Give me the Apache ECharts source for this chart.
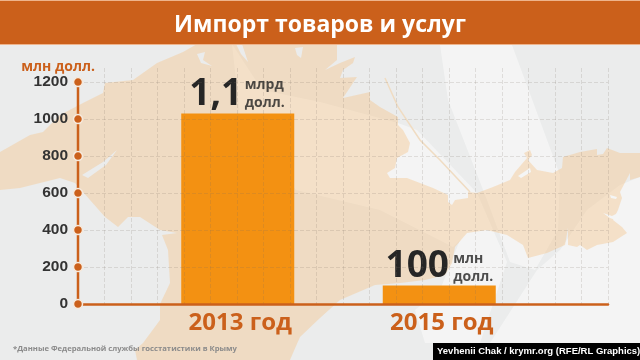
<!DOCTYPE html>
<html>
<head>
<meta charset="utf-8">
<style>
  html, body { margin: 0; padding: 0; background: #ebecec; }
  #chart { width: 640px; height: 360px; }
</style>
<script src="https://cdn.jsdelivr.net/npm/echarts@6/dist/echarts.min.js"></script>
</head>
<body>
<div id="chart"></div>
<script>
// data
const categories = ['2013 год', '2015 год']
const importValues = [1030, 100]
const bigLabels = ['1,1', '100']
const unitLabels = ['млрд\nдолл.', 'млн\nдолл.']
const yTicks = [0, 200, 400, 600, 800, 1000, 1200]

const orange = '#cb601b'
const barColor = '#f39112'
const land = 'rgba(245,196,134,0.4)'
const sea = '#ebecec'
const openSans = '"Open Sans", sans-serif'

// backdrop: map of Crimea, only decoration
const landShape = [
  [0, 152], [30, 135], [43, 132], [60, 115], [83, 103], [103, 93], [105, 83], [133, 80], [157, 63], [183, 52], [197, 44],
  [337, 44], [337, 60], [325, 70], [340, 63], [355, 57], [353, 63], [343, 70], [340, 78], [357, 77], [343, 98], [370, 92],
  [370, 100], [380, 107], [398, 117], [398, 125], [403, 130], [410, 143], [408, 152], [397, 158], [395, 168], [387, 173],
  [390, 178], [407, 178], [420, 183], [433, 188], [448, 195], [448, 202], [452, 205], [455, 200], [468, 198], [468, 192],
  [477, 193], [493, 187], [510, 180], [515, 172], [527, 158], [524, 153], [530, 150], [532, 155], [528, 160], [537, 170],
  [553, 173], [562, 168], [563, 157], [580, 152], [597, 149], [597, 155], [603, 154], [607, 148], [620, 153], [640, 153],
  [640, 177], [630, 180], [630, 173], [620, 192], [622, 198], [618, 210], [613, 220], [622, 227], [627, 233], [613, 242],
  [597, 245], [587, 250], [580, 245], [577, 247], [568, 245], [568, 228], [565, 245], [547, 253], [528, 258], [523, 245],
  [507, 235], [487, 230], [467, 233], [455, 247], [452, 263], [445, 275], [425, 280], [400, 283], [375, 285], [340, 300],
  [320, 318], [300, 337], [293, 353], [290, 360], [137, 360], [135, 350], [143, 343], [160, 320], [160, 304], [170, 283],
  [168, 250], [162, 235], [177, 233], [160, 230], [140, 217], [128, 217], [118, 227], [105, 217], [90, 200], [75, 183],
  [60, 178], [20, 188], [0, 190]
]
const seaPatches = [
  [[82, 175], [103, 162], [117, 150], [106, 165], [88, 178]],
  [[197, 54], [205, 52], [203, 60], [212, 66], [201, 63]],
  [[236, 44], [242, 44], [248, 62], [241, 54]],
  [[295, 48], [303, 47], [301, 58], [297, 55]]
]
const lightSeaPatches = [
  [[518, 176], [530, 168], [531, 172], [521, 178]],
  [[603, 213], [612, 216], [620, 212], [618, 221], [610, 218]],
  [[610, 195], [617, 197], [616, 199], [611, 198]]
]
const lightBands = [
  [[232, 44], [262, 90], [320, 102], [398, 123], [417, 130], [477, 193], [507, 262], [480, 343], [425, 343], [415, 310],
    [440, 290], [460, 240], [453, 247], [380, 210], [296, 190], [240, 115]],
  [[440, 45], [512, 45], [560, 175], [558, 230], [535, 270], [510, 262], [487, 200], [448, 100]],
  [[640, 177], [620, 185], [587, 210], [560, 250], [537, 270], [490, 343], [480, 360], [640, 360]]
]

const backdrop = [
  { type: 'rect', z: -10, shape: { x: 0, y: 0, width: 640, height: 360 }, style: { fill: sea } },
  ...lightBands.map(points => ({ type: 'polygon', z: -9, shape: { points }, style: { fill: 'rgba(255,255,255,0.45)' } })),
  { type: 'polygon', z: -8, shape: { points: landShape }, style: { fill: land } },
  ...seaPatches.map(points => ({ type: 'polygon', z: -7, shape: { points }, style: { fill: sea } })),
  ...lightSeaPatches.map(points => ({ type: 'polygon', z: -7, shape: { points }, style: { fill: '#f4f5f5' } })),
  { type: 'polyline', z: -7, shape: { points: [[385, 78], [398, 107], [420, 140], [440, 160], [470, 192]] }, style: { stroke: '#f0dcc2', lineWidth: 1.5, fill: null } },
  { type: 'rect', z: -6, shape: { x: 0, y: 0, width: 640, height: 45 }, style: { fill: '#eeb48c' } },
  { type: 'rect', z: -5, shape: { x: 0, y: 1, width: 640, height: 43 }, style: { fill: orange } },
  {
    type: 'text', z: 10, left: 13, top: 345,
    style: { text: '*Данные Федеральной службы госстатистики в Крыму', fill: '#8b8b8b', font: 'bold 7.7px ' + openSans }
  },
  { type: 'rect', z: 10, shape: { x: 433, y: 343, width: 207, height: 17 }, style: { fill: '#000' } },
  {
    type: 'text', z: 11, left: 437, top: 346,
    style: { text: 'Yevhenii Chak / krymr.org (RFE/RL Graphics)', fill: '#fff', font: 'bold 9.5px "Liberation Sans", sans-serif' }
  }
]

const chart = echarts.init(document.getElementById('chart'))

chart.setOption({
  animation: false,
  title: {
    text: 'Импорт товаров и услуг',
    left: 'center',
    top: 9,
    textStyle: { color: '#fff', fontFamily: openSans, fontWeight: 'bold', fontSize: 23 }
  },
  graphic: backdrop,
  grid: [
    // frame with the dashed lattice
    { left: 78, right: 32, top: 68, bottom: 56 },
    // narrower grid so the two bars land where they are in the picture
    { left: 137, width: 403, top: 68, bottom: 56 }
  ],
  xAxis: [
    {
      type: 'value', gridIndex: 0, min: 0, max: 20, interval: 1, z: 3,
      axisLine: { show: true, onZero: false, lineStyle: { color: orange, width: 2.5 } },
      axisTick: { show: false },
      axisLabel: { show: false },
      splitLine: { showMinLine: false, lineStyle: { type: 'dashed', color: 'rgba(120,110,100,0.18)', width: 1 } }
    },
    {
      type: 'category', gridIndex: 1, data: categories,
      axisLine: { show: false },
      axisTick: { show: false },
      axisLabel: { color: orange, fontFamily: openSans, fontWeight: 'bold', fontSize: 24, margin: 7, padding: [0, 0, 0, 5] }
    }
  ],
  yAxis: [
    {
      type: 'value', gridIndex: 0, min: 0, max: 1276, interval: 200, z: 3,
      name: 'млн долл.',
      nameGap: -6,
      nameTextStyle: { color: orange, fontFamily: openSans, fontWeight: 'bold', fontSize: 14, align: 'right', padding: [0, -17, 0, 0] },
      axisLine: { show: false },
      axisTick: { show: false },
      axisLabel: {
        color: '#333', fontFamily: '"Liberation Sans", sans-serif', fontWeight: 'bold', fontSize: 15.5, margin: 10,
        showMaxLabel: false,
        formatter: v => String(v)
      },
      splitLine: { showMaxLine: false, lineStyle: { type: 'dashed', color: 'rgba(120,110,100,0.18)', width: 1 } }
    },
    { type: 'value', gridIndex: 1, min: 0, max: 1276, interval: 200, show: false, splitLine: { show: false } }
  ],
  series: [
    {
      type: 'bar', xAxisIndex: 1, yAxisIndex: 1, z: 2,
      barWidth: 113,
      itemStyle: { color: barColor },
      data: importValues,
      label: {
        show: true, position: 'top', distance: 0, offset: [-22, -1],
        formatter: p => bigLabels[p.dataIndex],
        color: '#262626', fontFamily: openSans, fontWeight: 'bold', fontSize: 37
      }
    },
    {
      type: 'scatter', xAxisIndex: 1, yAxisIndex: 1, z: 4,
      symbolSize: 0,
      data: importValues.map((v, i) => ({
        value: [categories[i], v],
        label: { offset: [i === 0 ? 7 : 14, i === 0 ? -1 : 1] }
      })),
      label: {
        show: true, position: 'top', align: 'left', distance: 0,
        formatter: p => unitLabels[p.dataIndex],
        color: '#222', fontFamily: openSans, fontWeight: 'bold', fontSize: 14, lineHeight: 18
      }
    },
    {
      // vertical axis line with its dots
      type: 'line', xAxisIndex: 0, yAxisIndex: 0, z: 5,
      data: yTicks.map(t => [0, t]),
      symbol: 'circle', symbolSize: 9,
      lineStyle: { color: orange, width: 2.5 },
      itemStyle: { color: orange, borderColor: '#f6e9dc', borderWidth: 1.5 }
    }
  ]
})

window.addEventListener('resize', () => {
  chart.resize()
})
</script>
</body>
</html>
